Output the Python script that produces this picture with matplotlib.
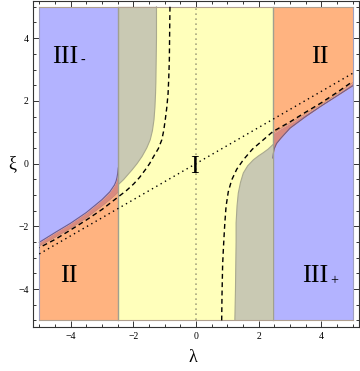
import matplotlib
matplotlib.use("Agg")
import matplotlib.pyplot as plt
from matplotlib.ticker import MultipleLocator

plt.rcParams['font.family'] = ['Liberation Serif', 'DejaVu Serif']

# region borders
lam_min, lam_max = -5.0, 5.0
xi_min, xi_max = -5.0, 5.0
band_left, band_right = -2.48, 2.45

# left side (lambda < band_left): lower edge of III-, upper edge of II
lam_l = [-5.0, -4.5, -4.0, -3.5, -3.0, -2.75, -2.6, -2.55, -2.52, -2.5, -2.48]
h_l = [-2.51, -2.2, -1.9, -1.56, -1.15, -0.9, -0.68, -0.56, -0.44, -0.32, -0.14]
g_l = [-2.62, -2.35, -2.06, -1.73, -1.35, -1.15, -1.02, -0.97, -0.94, -0.92, -0.90]

# right side (lambda > band_right): upper edge of III+, lower edge of II
lam_r = [2.45, 2.47, 2.5, 2.57, 2.7, 3.0, 3.5, 4.0, 4.5, 5.0]
h_r = [0.18, 0.34, 0.48, 0.64, 0.80, 1.13, 1.50, 1.84, 2.16, 2.48]
g_r = [0.97, 0.98, 0.99, 1.03, 1.12, 1.29, 1.59, 1.89, 2.22, 2.58]

# grey pockets inside region I
gray_l_lam = [-1.26, -1.26, -1.27, -1.28, -1.29, -1.31, -1.34, -1.39, -1.46, -1.57,
              -1.72, -1.88, -2.04, -2.18, -2.31, -2.48]
gray_l_xi = [5.0, 4.0, 3.3, 2.6, 2.24, 1.8, 1.4, 1.05, 0.76, 0.5,
             0.23, 0.0, -0.20, -0.36, -0.51, -0.67]
gray_r_lam = [1.24, 1.26, 1.27, 1.28, 1.28, 1.31, 1.35, 1.42, 1.51, 1.65,
              1.83, 2.0, 2.15, 2.3, 2.45]
gray_r_xi = [-5.0, -4.0, -3.22, -2.5, -1.89, -1.35, -0.94, -0.6, -0.30, -0.07,
             0.12, 0.25, 0.35, 0.46, 0.6]

# dashed curves
dash_l_lam = [-0.83, -0.84, -0.85, -0.87, -0.89, -0.93, -0.98, -1.03, -1.09, -1.2,
              -1.35, -1.48, -1.62, -1.8, -1.99, -2.22, -2.48, -2.98, -3.5, -4.04,
              -4.5, -5.0]
dash_l_xi = [5.0, 4.2, 3.30, 2.7, 2.24, 1.8, 1.40, 1.05, 0.76, 0.48,
             0.23, 0.0, -0.20, -0.44, -0.65, -0.86, -1.06, -1.45, -1.80, -2.14,
             -2.42, -2.68]
dash_r_lam = [0.82, 0.83, 0.85, 0.87, 0.89, 0.92, 0.96, 1.03, 1.14, 1.3,
              1.51, 1.8, 2.15, 2.45, 3.0, 3.5, 4.0, 4.5, 5.0]
dash_r_xi = [-5.0, -4.2, -3.22, -2.8, -2.42, -1.9, -1.36, -0.9, -0.52, -0.18,
             0.12, 0.46, 0.76, 1.02, 1.33, 1.64, 1.94, 2.27, 2.62]

# dotted straight line
dot_lam = [-5.0, 5.0]
dot_xi = [-2.88, 2.88]

blue = '#b3b3ff'
yellow = '#ffffbb'
orange = '#ffb380'
gray = '#c9c9b3'
red = '#d98a80'

fig = plt.figure(figsize=(3.6, 3.71), dpi=100)
ax = fig.add_axes([0.0908, 0.1194, 0.9072, 0.8792])

# region I
ax.fill_between([band_left, band_right], xi_min, xi_max, color=yellow, lw=0)

# grey pockets
ax.fill(gray_l_lam + [band_left], gray_l_xi + [xi_max], color=gray, lw=0)
ax.fill(gray_r_lam + [band_right], gray_r_xi + [xi_min], color=gray, lw=0)
ax.plot(gray_l_lam, gray_l_xi, color='#a9a98f', lw=0.8)
ax.plot(gray_r_lam, gray_r_xi, color='#a9a98f', lw=0.8)

# III- and II on the left
ax.fill_between(lam_l, h_l, xi_max, color=blue, lw=0)
ax.fill_between(lam_l, xi_min, g_l, color=orange, lw=0)
ax.fill_between(lam_l, g_l, h_l, color=red, lw=0)
ax.plot(lam_l, h_l, color='#6f5c8c', lw=0.8)
ax.plot(lam_l, g_l, color='#d08a70', lw=0.6)

# III+ and II on the right
ax.fill_between(lam_r, xi_min, h_r, color=blue, lw=0)
ax.fill_between(lam_r, g_r, xi_max, color=orange, lw=0)
ax.fill_between(lam_r, h_r, g_r, color=red, lw=0)
ax.plot(lam_r, h_r, color='#6f5c8c', lw=0.8)
ax.plot(lam_r, g_r, color='#d08a70', lw=0.6)

# outer outlines of the colored area
ax.plot([band_left, band_left], [xi_min, xi_max], color='#a0a090', lw=1.0)
ax.plot([band_right, band_right], [xi_min, xi_max], color='#a0a090', lw=1.0)
ax.plot([lam_min, lam_min], [xi_min, xi_max], color='#a0a0c0', lw=0.8)
ax.plot([lam_max, lam_max], [xi_min, xi_max], color='#a0a0c0', lw=0.8)
ax.plot([lam_min, lam_max], [xi_min, xi_min], color='#b0a090', lw=0.8)
ax.plot([lam_min, lam_max], [xi_max, xi_max], color='#b0a090', lw=0.8)

# curves
ax.plot(dash_l_lam, dash_l_xi, color='black', lw=1.0, ls=(0, (3.5, 2.5)))
ax.plot(dash_r_lam, dash_r_xi, color='black', lw=1.0, ls=(0, (3.5, 2.5)))
ax.plot(dot_lam, dot_xi, color='black', lw=1.0, ls=(0, (1, 2.6)))
ax.plot([0, 0], [xi_min, xi_max], color='#a8a880', lw=1.2, ls=(0, (1, 2.0)))

# region labels
lab = dict(fontsize=19, ha='center', va='baseline')
ax.text(-4.16, 3.21, 'III', **lab)
ax.text(-3.61, 3.17, '-', fontsize=10, ha='center', va='baseline')
ax.text(3.96, 3.21, 'II', **lab)
ax.text(-0.05, -0.29, 'I', **lab)
ax.text(-4.05, -3.79, 'II', **lab)
ax.text(3.81, -3.79, 'III', **lab)
ax.text(4.42, -3.83, '+', fontsize=10, ha='center', va='baseline')

ax.set_xlim(-5.21, 5.21)
ax.set_ylim(-5.2, 5.2)
ax.xaxis.set_major_locator(MultipleLocator(2))
ax.yaxis.set_major_locator(MultipleLocator(2))
ax.xaxis.set_minor_locator(MultipleLocator(0.5))
ax.yaxis.set_minor_locator(MultipleLocator(0.5))
ax.tick_params(which='both', direction='in', top=True, right=True,
               labelsize=7, color='#333333', width=0.7)
ax.tick_params(which='major', length=4.5)
ax.tick_params(which='minor', length=2.2)
ax.tick_params(axis='x', pad=4)
ax.tick_params(axis='y', pad=3)
for s in ax.spines.values():
    s.set_color('#333333')
    s.set_linewidth(0.8)

fig.text(12 / 360, 1 - 164 / 371, 'ξ', fontsize=13, ha='center', va='center')
fig.text(193 / 360, 1 - 358 / 371, 'λ', fontsize=13, ha='center', va='center')

fig.savefig('out.png', dpi=100)
